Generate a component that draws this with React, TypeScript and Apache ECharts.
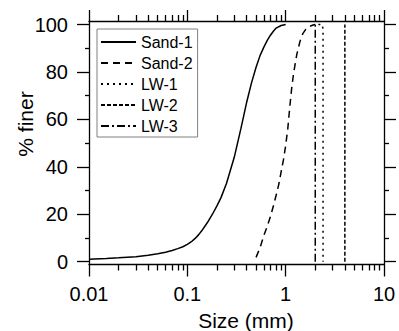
import React, { useEffect, useRef } from "react";
import * as echarts from "echarts";

const FONT = "'Liberation Sans', Arial, sans-serif";

// Particle size distributions (size in mm, % finer)
const sand1Size = [0.01, 0.015, 0.02, 0.03, 0.04, 0.05, 0.06, 0.07, 0.08, 0.09, 0.1, 0.11, 0.12, 0.13, 0.14, 0.16, 0.18, 0.2, 0.22, 0.25, 0.3, 0.35, 0.4, 0.45, 0.5, 0.55, 0.6, 0.65, 0.7, 0.75, 0.8, 0.9, 1.0];
const sand1Finer = [1.0, 1.3, 1.6, 2.1, 2.7, 3.3, 4.0, 4.7, 5.5, 6.3, 7.3, 8.4, 9.8, 11.3, 13, 16.5, 20, 23.5, 27, 33, 44, 56, 67, 75.5, 82, 87, 90.5, 93.3, 95.5, 97.2, 98.5, 99.6, 100];

const sand2Size = [0.5, 0.55, 0.6, 0.65, 0.7, 0.75, 0.8, 0.85, 0.9, 0.95, 1.0, 1.05, 1.1, 1.15, 1.2, 1.25, 1.3, 1.4, 1.5, 1.6, 1.75, 1.9, 2.0];
const sand2Finer = [1.8, 6, 11, 15, 19, 23.5, 28, 32.5, 38, 43, 49, 56, 65, 73, 79, 83.5, 87.5, 93, 96.3, 98, 99.2, 99.8, 100];

const lw1Size = [2.15, 2.35, 2.4, 2.4];
const lw1Finer = [100, 100, 98, 0];

const lw2Size = [4.0, 4.0];
const lw2Finer = [0, 100];

const lw3Size = [2.0, 2.0];
const lw3Finer = [0, 100];

const seriesNames = ["Sand-1", "Sand-2", "LW-1", "LW-2", "LW-3"];

const yMajorTicks = [0, 20, 40, 60, 80, 100];

const zip = (xs: number[], ys: number[]) => xs.map((x, i) => [x, ys[i]]);

export default function App() {
  const ref = useRef<HTMLDivElement>(null);

  useEffect(() => {
    if (!ref.current) return;
    const chart = echarts.init(ref.current, undefined, { renderer: "svg" });

    const line = (name: string, data: number[][], type: any) => ({
      name,
      type: "line",
      data,
      symbol: "none",
      lineStyle: { color: "#000", width: 1.5, type },
    });

    const logAxis = (position: "top" | "bottom", majorLen: number, minorLen: number, showLabel: boolean) => ({
      type: "log",
      logBase: 10,
      min: 0.01,
      max: 10,
      position,
      axisLine: { show: true, onZero: false, lineStyle: { color: "#000", width: 1.3 } },
      axisTick: { show: true, length: majorLen, lineStyle: { color: "#000", width: 1.3 } },
      minorTick: { show: true, splitNumber: 9, length: minorLen, lineStyle: { color: "#000", width: 1.3 } },
      axisLabel: showLabel ? { fontSize: 20, color: "#000", margin: 19 } : { show: false },
      splitLine: { show: false },
      minorSplitLine: { show: false },
    });

    const valAxis = (position: "left" | "right", minorLen: number, showLabel: boolean) => ({
      type: "value",
      min: -1.2,
      max: 101.5,
      position,
      axisLine: { show: true, onZero: false, lineStyle: { color: "#000", width: 1.3 } },
      axisTick: { show: true, length: 12, customValues: yMajorTicks, lineStyle: { color: "#000", width: 1.3 } },
      minorTick: { show: true, splitNumber: 2, length: minorLen, lineStyle: { color: "#000", width: 1.3 } },
      axisLabel: showLabel
        ? { fontSize: 20, color: "#000", margin: 21, customValues: yMajorTicks }
        : { show: false },
      splitLine: { show: false },
      minorSplitLine: { show: false },
    });

    chart.setOption({
      animation: false,
      backgroundColor: "#fff",
      textStyle: { fontFamily: FONT },
      grid: { left: 89, right: 15, top: 21, bottom: 66.5 },
      legend: {
        orient: "vertical",
        left: 97,
        top: 29,
        padding: [5, 5, 3, 3],
        itemWidth: 35,
        itemHeight: 14,
        itemGap: 5,
        borderColor: "#808080",
        borderWidth: 1,
        itemStyle: { opacity: 0, borderWidth: 0 },
        textStyle: { fontSize: 16, color: "#000" },
        data: seriesNames,
      },
      xAxis: [logAxis("bottom", 12, 6, true), logAxis("top", 11, 6, false)],
      yAxis: [valAxis("left", 4, true), valAxis("right", 5, false)],
      graphic: [
        {
          type: "text",
          x: 246,
          y: 320,
          style: {
            text: "Size (mm)",
            fontFamily: FONT,
            fontSize: 21,
            fill: "#000",
            align: "center",
            verticalAlign: "middle",
          },
        },
        {
          type: "text",
          x: 25,
          y: 124,
          rotation: Math.PI / 2,
          style: {
            text: "% finer",
            fontFamily: FONT,
            fontSize: 21,
            fill: "#000",
            align: "center",
            verticalAlign: "middle",
          },
        },
      ],
      series: [
        line(seriesNames[0], zip(sand1Size, sand1Finer), "solid"),
        line(seriesNames[1], zip(sand2Size, sand2Finer), [7, 5]),
        line(seriesNames[2], zip(lw1Size, lw1Finer), [2, 4]),
        line(seriesNames[3], zip(lw2Size, lw2Finer), [4, 2]),
        line(seriesNames[4], zip(lw3Size, lw3Finer), [8, 3, 2, 3]),
      ],
    });
    return () => chart.dispose();
  }, []);

  return <div ref={ref} style={{ position: "fixed", left: 0, top: 0, width: 399, height: 331 }} />;
}
